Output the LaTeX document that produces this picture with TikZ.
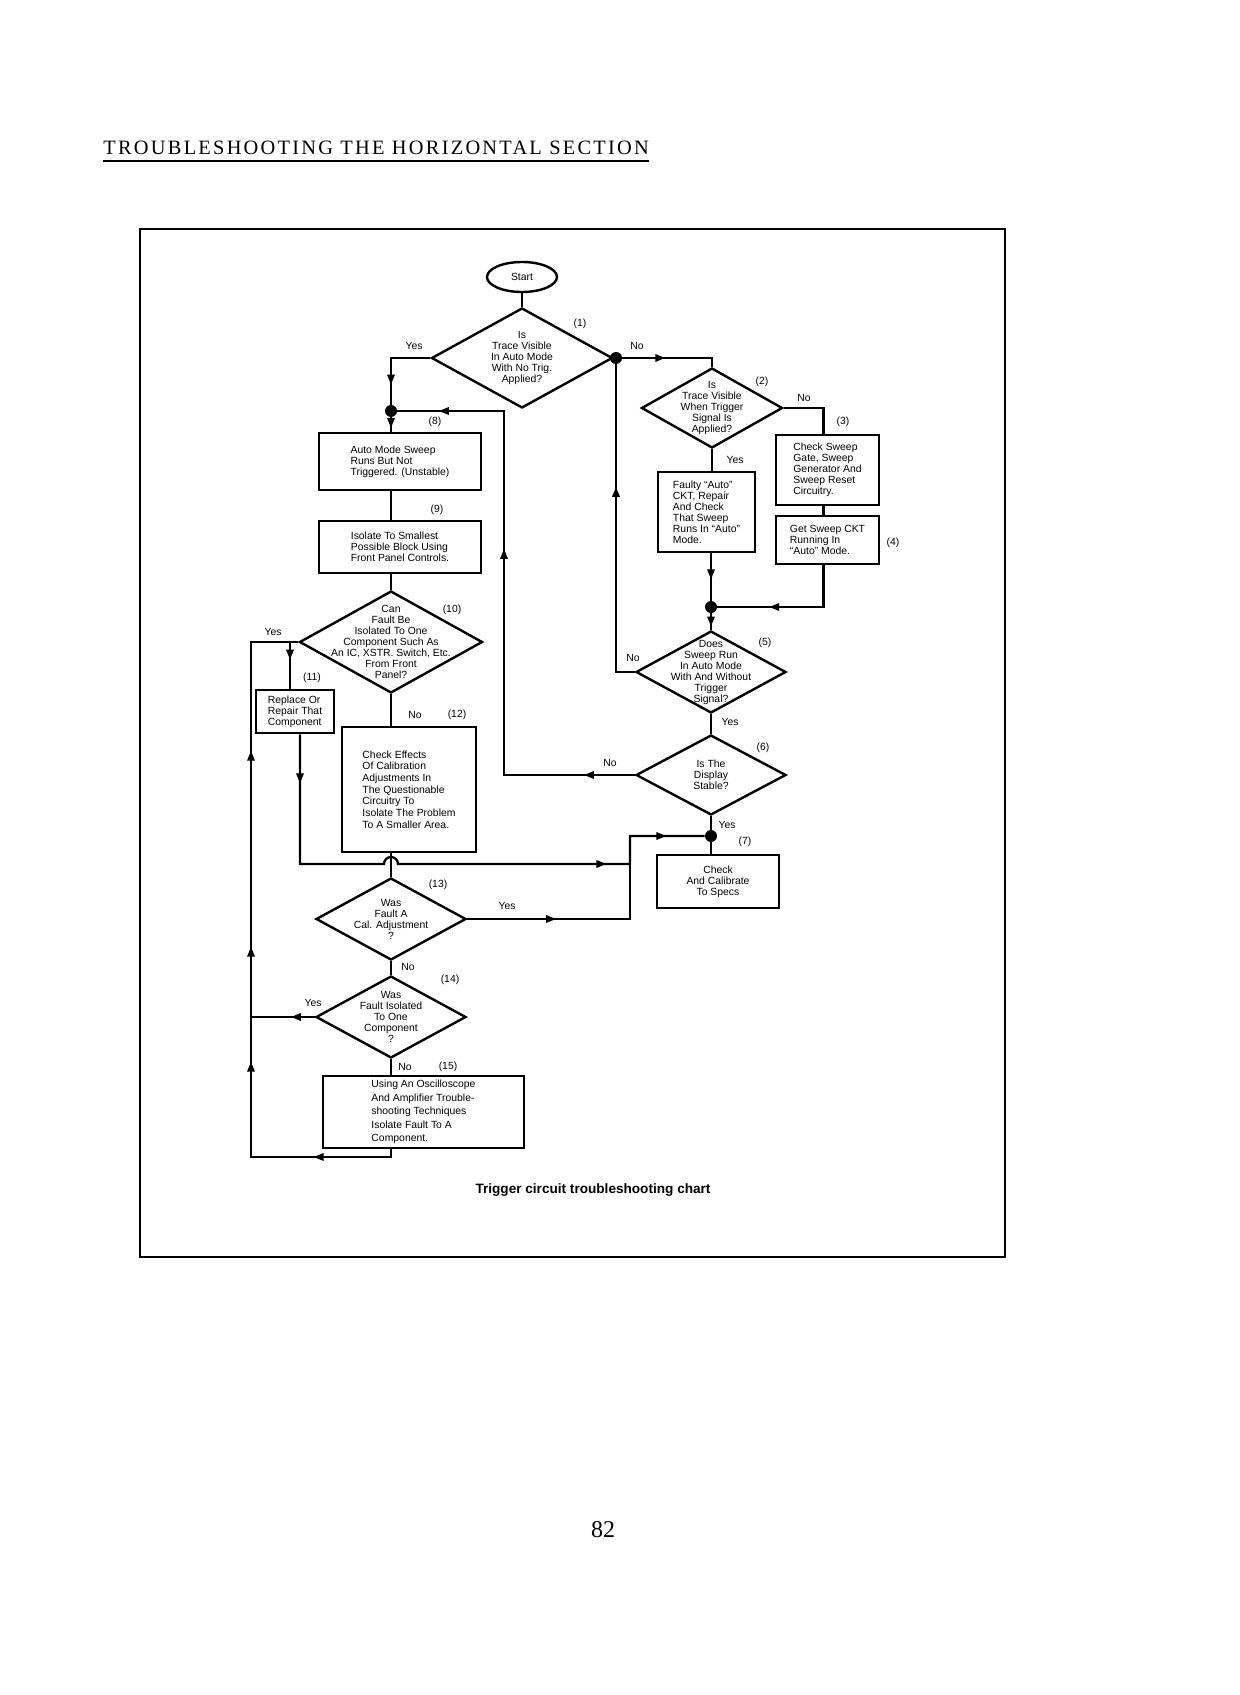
\documentclass[tikz,border=0pt]{standalone}
\usepackage{fontspec}
\setmainfont{Liberation Sans}
\newfontfamily\headfont[LetterSpace=11]{Liberation Serif}
\newfontfamily\numfont{Liberation Serif}
\usetikzlibrary{shapes.geometric, arrows.meta, decorations.markings}
\newcommand{\chartsize}{\fontsize{5.2}{5.5}\selectfont}

\begin{document}
\begin{tikzpicture}[x=0.5pt, y=-0.5pt,
    every node/.style={font=\chartsize},
    box/.style={rectangle, draw=black, line width=1.4pt, align=left, inner sep=1pt},
    decision/.style={diamond, draw=black, line width=1.2pt, inner sep=0pt},
    qtext/.style={align=center, inner sep=0pt, font=\chartsize},
    tag/.style={inner sep=0pt, font=\chartsize},
    joint/.style={circle, fill=black, inner sep=0pt, minimum size=6pt},
    flow/.style={line width=1.15pt},
    marr/.style={postaction={decorate, decoration={markings,
        mark=at position #1 with {\arrow{Triangle[length=5pt, width=3.6pt]}}}}}
  ]
    \fill[white] (0,0) rectangle (1240,1695);
    \useasboundingbox (0,0) rectangle (1240,1695);

    % page head, frame, caption
    \node[anchor=base west, inner sep=0pt, font=\headfont\fontsize{10.2}{12}\selectfont] (title) at (103,155) {TROUBLESHOOTING THE HORIZONTAL SECTION};
    \draw[line width=0.8pt] ([yshift=-3pt]title.base west) -- ([yshift=-3pt]title.base east);
    \draw[line width=0.7pt] (140,229) rectangle (1005,1257);
    \node[font=\bfseries\fontsize{6.8}{8}\selectfont] (caption) at (593,1190) {Trigger circuit troubleshooting chart};
    \node[font=\numfont\fontsize{12}{14}\selectfont] (pnum) at (603,1530) {82};

    % shapes
    \node[ellipse, draw=black, line width=1.2pt, minimum width=35pt, minimum height=15pt, inner sep=0pt] (start) at (522,277) {Start};
    \node[decision, minimum width=90.5pt, minimum height=50pt, label={[qtext]center:{Is\\Trace Visible\\In Auto Mode\\With No Trig.\\Applied?}}] (d1) at (522,358) {};
    \node[decision, minimum width=70.5pt, minimum height=40pt, label={[qtext]center:{Is\\Trace Visible\\When Trigger\\Signal Is\\Applied?}}] (d2) at (712,408) {};
    \node[box, minimum width=51.5pt, minimum height=35pt] (b3) at (827.5,470) {Check Sweep\\Gate, Sweep\\Generator And\\Sweep Reset\\Circuitry.};
    \node[box, minimum width=51.5pt, minimum height=24pt] (b4) at (827.5,540) {Get Sweep CKT\\Running In\\``Auto'' Mode.};
    \node[box, minimum width=48.5pt, minimum height=40pt] (bF) at (706.5,512) {Faulty ``Auto''\\CKT, Repair\\And Check\\That Sweep\\Runs In ``Auto''\\Mode.};
    \node[decision, minimum width=75pt, minimum height=41pt, label={[qtext]center:{Does\\Sweep Run\\In Auto Mode\\With And Without\\Trigger\\Signal?}}] (d5) at (711,672) {};
    \node[decision, minimum width=75pt, minimum height=40pt, label={[qtext]center:{Is The\\Display\\Stable?}}] (d6) at (711,775) {};
    \node[box, align=center, minimum width=61pt, minimum height=26.5pt] (b7) at (718,881.5) {Check\\And Calibrate\\To Specs};
    \node[box, minimum width=81pt, minimum height=28.5pt] (b8) at (400,461.5) {Auto Mode Sweep\\Runs But Not\\Triggered. (Unstable)};
    \node[box, minimum width=81pt, minimum height=26pt] (b9) at (400,547) {Isolate To Smallest\\Possible Block Using\\Front Panel Controls.};
    \node[decision, minimum width=91.5pt, minimum height=51pt, label={[qtext]center:{Can\\Fault Be\\Isolated To One\\Component Such As\\An IC, XSTR. Switch, Etc.\\From Front\\Panel?}}] (d10) at (391,642) {};
    \node[box, minimum width=39pt, minimum height=21.5pt] (b11) at (295,711.5) {Replace Or\\Repair That\\Component};
    \node[box, minimum width=67pt, minimum height=62.5pt, font=\fontsize{5.2}{5.85}\selectfont] (b12) at (409,789.5) {Check Effects\\Of Calibration\\Adjustments In\\The Questionable\\Circuitry To\\Isolate The Problem\\To A Smaller Area.};
    \node[decision, minimum width=75pt, minimum height=41pt, label={[qtext]center:{Was\\Fault A\\Cal. Adjustment\\?}}] (d13) at (391,919) {};
    \node[decision, minimum width=75pt, minimum height=41pt, label={[qtext]center:{Was\\Fault Isolated\\To One\\Component\\?}}] (d14) at (391,1017) {};
    \node[box, minimum width=100.5pt, minimum height=36pt, font=\fontsize{5.2}{6.8}\selectfont] (b15) at (423.5,1112) {Using An Oscilloscope\\And Amplifier Trouble-\\shooting Techniques\\Isolate Fault To A\\Component.};

    \node[joint] (dot1) at (616,358) {};
    \node[joint] (dot8) at (391,411) {};
    \node[joint] (dot5) at (711,607) {};
    \node[joint] (dot7) at (711,836) {};

    \coordinate (rx) at (504,411);
    \coordinate (rowh) at (0,864);
    \coordinate (rj) at (630,919);
    \coordinate (lb) at (251,1157);
    \coordinate (jy) at (290,642);

    % connectors
    \draw[flow] (start) -- (d1);
    \draw[flow] (d1.east) -- (dot1);
    \draw[flow, marr=21.5pt] (dot1) -| (d2);
    \draw[flow] (d2.east) -| ([xshift=-2pt]b3.north);
    \draw[flow] ([xshift=-2pt]b3.south) -- ([xshift=-2pt]b4.north);
    \draw[flow] (d2.south) -- (d2.south |- bF.north);
    \draw[flow, marr=13pt] (bF.south -| dot5) -- (dot5);
    \draw[flow, marr=48pt] ([xshift=-2pt]b4.south) |- (dot5);
    \draw[flow, marr=0.8] (dot5) -- (d5);
    \draw[flow, marr=102pt] (d5.west) -| (dot1);
    \draw[flow] (d5) -- (d6);
    \draw[flow] (d6) -- (dot7);
    \draw[flow] (dot7) -- (dot7 |- b7.north);
    \draw[flow, marr=25.5pt, marr=178.5pt, marr=280pt] (d6.west) -| (rx) -- (dot8);
    \draw[flow, marr=33pt] (d1.west) -| (dot8);
    \draw[flow, marr=0.75] (dot8) -- (dot8 |- b8.north);
    \draw[flow] (b8.south -| dot8) -- (b9.north -| dot8);
    \draw[flow] (b9.south -| dot8) -- (d10);
    \draw[flow, marr=13pt] (d10.west) -- (jy) -- (jy |- b11.north);
    \draw[flow] (d10) -- (d10 |- b12.north);
    \draw[flow] (d10 |- b12.south) -- (d13);
    \draw[flow, marr=24.5pt, marr=222pt, marr=266pt] ([xshift=2.5pt]b11.south) |- ([xshift=-3.5pt]d10 |- rowh) arc[start angle=180, end angle=0, radius=3.5pt] -- (rj |- rowh) |- (dot7);
    \draw[flow, marr=44.5pt] (d13.east) -- (rj) -- (rj |- rowh);
    \draw[flow] (d13) -- (d14);
    \draw[flow] (d14) -- (b15.north -| d14);
    \draw[flow, marr=12pt] (d14.west) -- (d14.west -| lb);
    \draw[flow, marr=42.5pt, marr=121.5pt, marr=179pt, marr=277pt] (b15.south -| d14) |- (lb) |- (jy);

    % branch tags and step numbers
    \node[tag] (n1) at (580,324) {(1)};
    \node[tag] (y1) at (414,346) {Yes};
    \node[tag] (no1) at (637,346) {No};
    \node[tag] (n2) at (762,382) {(2)};
    \node[tag] (no2) at (804,398) {No};
    \node[tag] (n3) at (843,422) {(3)};
    \node[tag] (y2) at (735,460) {Yes};
    \node[tag] (n4) at (893,543) {(4)};
    \node[tag] (n5) at (765,643) {(5)};
    \node[tag] (no5) at (633,658) {No};
    \node[tag] (y5) at (730,722) {Yes};
    \node[tag] (n6) at (763,748) {(6)};
    \node[tag] (no6) at (610,763) {No};
    \node[tag] (y6) at (727,825) {Yes};
    \node[tag] (n7) at (745,842) {(7)};
    \node[tag] (n8) at (435,422) {(8)};
    \node[tag] (n9) at (437,510) {(9)};
    \node[tag] (n10) at (452,610) {(10)};
    \node[tag] (y10) at (273,632) {Yes};
    \node[tag] (n11) at (312,678) {(11)};
    \node[tag] (no10) at (415,715) {No};
    \node[tag] (n12) at (457,715) {(12)};
    \node[tag] (n13) at (438,885) {(13)};
    \node[tag] (y13) at (507,906) {Yes};
    \node[tag] (no13) at (408,967) {No};
    \node[tag] (n14) at (450,980) {(14)};
    \node[tag] (y14) at (313,1003) {Yes};
    \node[tag] (no14) at (405,1067) {No};
    \node[tag] (n15) at (448,1067) {(15)};
  \end{tikzpicture}
\end{document}
